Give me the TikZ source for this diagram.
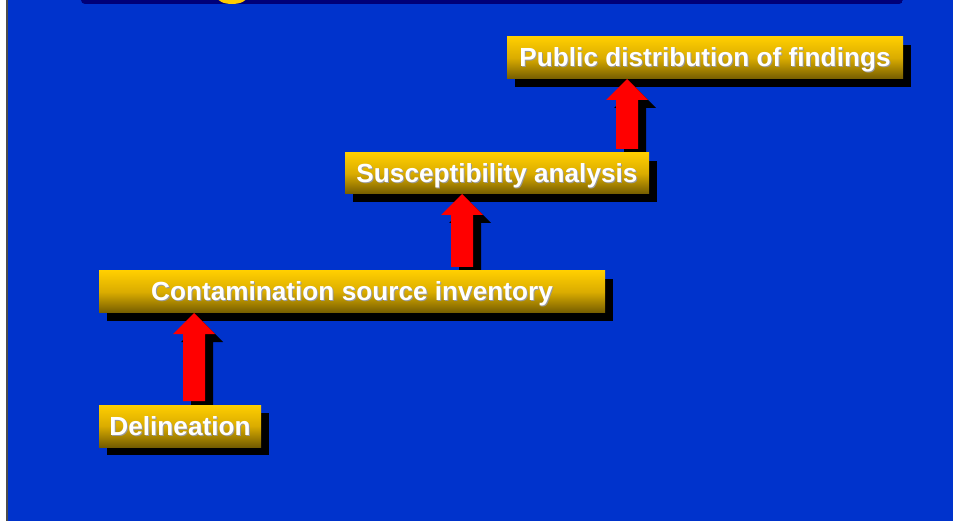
\documentclass[tikz,border=0pt]{standalone}
\usepackage{fontspec}
\setmainfont{Liberation Sans}
\usetikzlibrary{calc}
\definecolor{slideblue}{RGB}{0,51,204}
\definecolor{barnavy}{RGB}{0,0,120}
\definecolor{goldtop}{RGB}{255,206,0}
\definecolor{goldmid}{RGB}{218,172,0}
\definecolor{goldbot}{RGB}{116,92,0}
\definecolor{titleyellow}{RGB}{255,204,0}
\pgfdeclarelayer{shadowlayer}
\pgfdeclarelayer{arrowlayer}
\pgfsetlayers{shadowlayer,arrowlayer,main}
% white lettering with a faint dark shadow
\newcommand{\shadowed}[1]{\rlap{\kern1pt\raisebox{-1pt}{\color{black!40}#1}}#1}
\tikzset{
  stepbox/.style={anchor=north west, inner sep=0pt, outer sep=0pt,
    top color=goldtop, bottom color=goldbot, middle color=goldmid,
    shading angle=0, text height=20pt, text depth=2pt,
    text=white, font=\bfseries\fontsize{26.2}{30}\selectfont},
  boxshadow/.style={fill=black},
  uparrow/.style={fill=red},
  uparrowshadow/.style={fill=black}
}
% shadow of a step box, offset down and right
\newcommand{\stepshadow}[1]{%
  \fill[boxshadow] ($(#1.north west)+(8,8)$) rectangle ($(#1.south east)+(8,8)$);}
% up arrow from base #1 to tip #2 (same x), offset by (#3,#4), style #5
\newcommand{\blockarrow}[5]{%
  \fill[#5] let \p1=($(#1)+(#3,#4)$), \p2=($(#2)+(#3,#4)$) in
    (\x1-11pt,\y1) -- (\x1-11pt,\y2-21pt) -- (\x1-21pt,\y2-21pt) --
    (\x2,\y2) -- (\x1+21pt,\y2-21pt) -- (\x1+11pt,\y2-21pt) --
    (\x1+11pt,\y1) -- cycle;}
\begin{document}
\begin{tikzpicture}[x=1pt,y=-1pt]
\useasboundingbox (0,0) rectangle (953,521);
% page and slide background
\begin{pgfonlayer}{shadowlayer}
\fill[white] (0,0) rectangle (953,521);
\fill[slideblue] (8,0) rectangle (953,521);
\fill[black!70] (6,0) rectangle (8,521);
\end{pgfonlayer}
% title bar with the lower part of its lettering
\begin{scope}
  \clip[rounded corners=4pt] (81,-10) rectangle (903,4);
  \fill[barnavy] (81,-10) rectangle (903,4);
  \fill[titleyellow] (232,-3) ellipse [x radius=15, y radius=7];
\end{scope}
% steps
\node[stepbox, minimum width=396pt, minimum height=42pt] (pub) at (507,37) {\shadowed{Public distribution of findings}};
\node[stepbox, minimum width=304pt, minimum height=41pt] (sus) at (345,153) {\shadowed{Susceptibility analysis}};
\node[stepbox, minimum width=506pt, minimum height=42pt] (con) at (99,271) {\shadowed{Contamination source inventory}};
\node[stepbox, minimum width=162pt, minimum height=42pt] (del) at (99,405) {\shadowed{Delineation}};
\begin{pgfonlayer}{shadowlayer}
  \stepshadow{pub}
  \stepshadow{sus}
  \stepshadow{con}
  \stepshadow{del}
\end{pgfonlayer}
% arrow base and tip points
\coordinate (a1b) at ($(del.north west -| 194,0)+(0,-4)$);
\coordinate (a1t) at (con.south west -| 194,0);
\coordinate (a2b) at ($(con.north west -| 462,0)+(0,-4)$);
\coordinate (a2t) at (sus.south west -| 462,0);
\coordinate (a3b) at ($(sus.north west -| 627,0)+(0,-4)$);
\coordinate (a3t) at (pub.south west -| 627,0);
\begin{pgfonlayer}{arrowlayer}
  % arrow shadows
  \blockarrow{a1b}{a1t}{8}{8}{uparrowshadow}
  \blockarrow{a2b}{a2t}{8}{8}{uparrowshadow}
  \blockarrow{a3b}{a3t}{8}{8}{uparrowshadow}
  % arrows
  \blockarrow{a1b}{a1t}{0}{0}{uparrow}
  \blockarrow{a2b}{a2t}{0}{0}{uparrow}
  \blockarrow{a3b}{a3t}{0}{0}{uparrow}
\end{pgfonlayer}
\end{tikzpicture}
\end{document}
